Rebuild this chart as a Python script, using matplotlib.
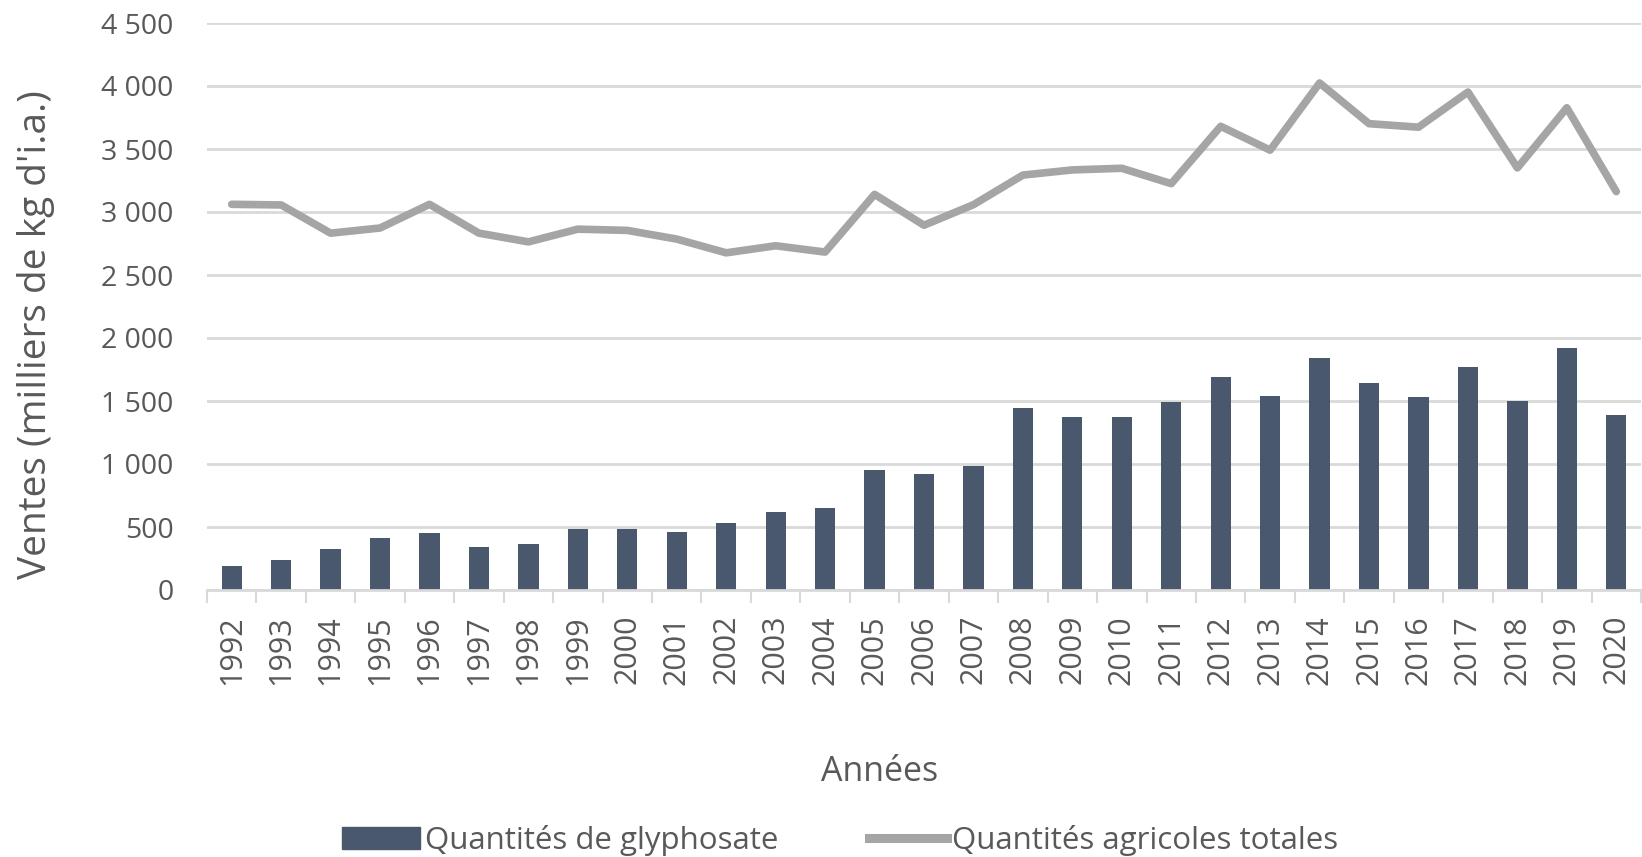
import numpy as np
import matplotlib
matplotlib.use('Agg')
import matplotlib.pyplot as plt
from matplotlib.lines import Line2D
from matplotlib.patches import Patch

plt.rcParams['font.family'] = ['Open Sans', 'DejaVu Sans']

# data
years = ['1992', '1993', '1994', '1995', '1996', '1997', '1998', '1999', '2000', '2001',
         '2002', '2003', '2004', '2005', '2006', '2007', '2008', '2009', '2010', '2011',
         '2012', '2013', '2014', '2015', '2016', '2017', '2018', '2019', '2020']
glyphosate = [190, 242, 326, 411, 452, 342, 367, 486, 486, 461,
              533, 618, 652, 950, 919, 982, 1443, 1371, 1371, 1490,
              1691, 1543, 1841, 1644, 1528, 1772, 1503, 1920, 1386]
totales = [3061, 3056, 2832, 2873, 3061, 2832, 2763, 2864, 2854, 2785,
           2676, 2732, 2682, 3140, 2895, 3058, 3293, 3334, 3347, 3225,
           3680, 3491, 4024, 3701, 3673, 3952, 3350, 3827, 3162]
yticks = [0, 500, 1000, 1500, 2000, 2500, 3000, 3500, 4000, 4500]

bar_col = '#4a586e'
line_col = '#a5a5a5'
grid_col = '#d9d9d9'
txt_col = '#595959'

fig = plt.figure(figsize=(16.42, 8.57), dpi=100)
ax = fig.add_axes([207/1642, 1-590/857, 1434/1642, 567/857])

x = np.arange(len(years))
ax.bar(x, glyphosate, width=0.41, color=bar_col, zorder=2)
ax.plot(x, totales, color=line_col, lw=5.5, solid_capstyle='round', zorder=3)

ax.set_xlim(-0.5, len(years) - 0.5)
ax.set_ylim(0, 4500)
ax.set_yticks(yticks)
ax.set_yticklabels([f'{v:,}'.replace(',', ' ') for v in yticks])
ax.yaxis.grid(True, color=grid_col, lw=2)
ax.set_axisbelow(True)
for s in ['top', 'right', 'left']:
    ax.spines[s].set_visible(False)
ax.spines['bottom'].set_color(grid_col)
ax.spines['bottom'].set_linewidth(2)

ax.set_xticks(x)
ax.set_xticklabels(years, rotation=90)
ax.set_xticks(np.arange(len(years) + 1) - 0.5, minor=True)
ax.tick_params(axis='x', which='major', length=0, pad=18, labelsize=22, labelcolor=txt_col)
ax.tick_params(axis='x', which='minor', length=9.5, width=1.5, color=grid_col)
ax.tick_params(axis='y', length=0, pad=24, labelsize=20.5, labelcolor=txt_col)

fig.text(36/1642, 1-335/857, "Ventes (milliers de kg d'i.a.)", rotation=90,
         ha='center', va='center', fontsize=28, color=txt_col)
fig.text(880/1642, 1-772/857, 'Années', ha='center', va='center', fontsize=24.5, color=txt_col)

handles = [Patch(color=bar_col), Line2D([], [], color=line_col, lw=6.5)]
labels = ['Quantités de glyphosate', 'Quantités agricoles totales']
fig.legend(handles, labels, loc='center', bbox_to_anchor=(840/1642, 1-840/857), ncol=2,
           frameon=False, fontsize=22.5, handlelength=2.5, handletextpad=0.16,
           columnspacing=2.9, labelcolor=txt_col)

fig.savefig('out.png', dpi=100)
